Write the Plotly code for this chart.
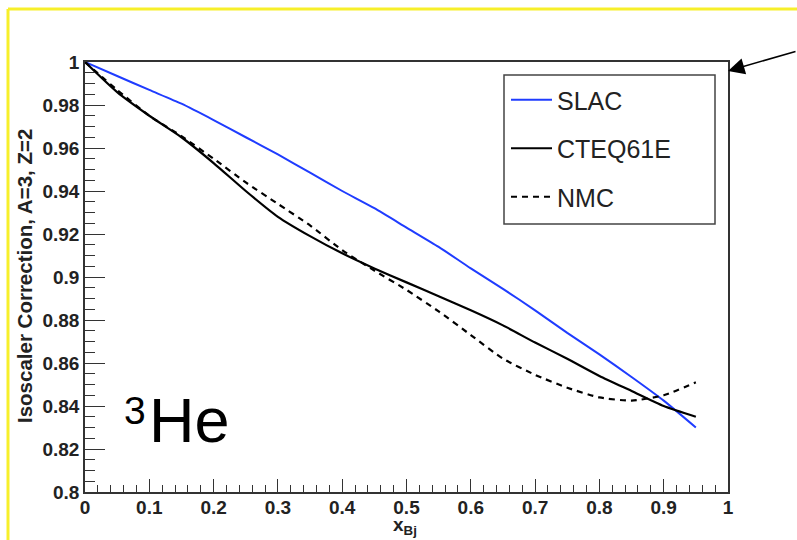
import plotly.graph_objects as go

# ---- data ----
x_vals = [0.0, 0.05, 0.1, 0.15, 0.2, 0.25, 0.3, 0.35, 0.4, 0.45, 0.5,
          0.55, 0.6, 0.65, 0.7, 0.75, 0.8, 0.85, 0.9, 0.95]
slac = [1.0, 0.9935, 0.987, 0.9806, 0.973, 0.965, 0.957, 0.9485, 0.940, 0.932,
        0.923, 0.914, 0.904, 0.8945, 0.8845, 0.874, 0.864, 0.8535, 0.8425, 0.830]
cteq = [1.0, 0.986, 0.975, 0.965, 0.953, 0.940, 0.928, 0.919, 0.911, 0.904,
        0.8975, 0.891, 0.8845, 0.8775, 0.8695, 0.862, 0.854, 0.847, 0.840, 0.835]
nmc = [1.0, 0.987, 0.975, 0.9655, 0.955, 0.944, 0.934, 0.924, 0.9125, 0.903,
       0.894, 0.884, 0.873, 0.862, 0.8545, 0.8485, 0.844, 0.8425, 0.845, 0.851]

x_ticks = [0, 0.1, 0.2, 0.3, 0.4, 0.5, 0.6, 0.7, 0.8, 0.9, 1.0]
x_ticktext = ["0", "0.1", "0.2", "0.3", "0.4", "0.5", "0.6", "0.7", "0.8", "0.9", "1"]
y_ticks = [0.80, 0.82, 0.84, 0.86, 0.88, 0.90, 0.92, 0.94, 0.96, 0.98, 1.0]
y_ticktext = ["0.8", "0.82", "0.84", "0.86", "0.88", "0.9", "0.92", "0.94", "0.96", "0.98", "1"]

FONT = "Liberation Sans, Arial, Helvetica, sans-serif"
AXC = "#333333"

fig = go.Figure()
fig.add_trace(go.Scatter(x=x_vals, y=slac, mode="lines", name="SLAC",
                         line=dict(color="#1f3cff", width=2, shape="spline", smoothing=0.6),
                         legendgroup="a"))
fig.add_trace(go.Scatter(x=x_vals, y=cteq, mode="lines", name="CTEQ61E",
                         line=dict(color="black", width=2.2, shape="spline", smoothing=0.6),
                         legendgroup="b"))
fig.add_trace(go.Scatter(x=x_vals, y=nmc, mode="lines", name="NMC",
                         line=dict(color="black", width=2.2, dash="6px,5px", shape="spline", smoothing=0.6),
                         legendgroup="c"))

W, H = 797, 540
L, R, T, B = 85, 728, 62, 492
pw, ph = R - L, B - T


def px(xp):
    return (xp - L) / pw


def py(yp):
    return (B - yp) / ph


fig.update_layout(
    width=W, height=H,
    margin=dict(l=L, r=W - R, t=T, b=H - B),
    paper_bgcolor="white", plot_bgcolor="white",
    showlegend=True,
    legend=dict(x=px(506), y=py(77), xanchor="left", yanchor="top",
                font=dict(family=FONT, size=25, color="#222"),
                bgcolor="rgba(0,0,0,0)", borderwidth=0,
                tracegroupgap=13, itemwidth=41, traceorder="grouped"),
    xaxis=dict(range=[0, 1], tickvals=x_ticks, ticktext=x_ticktext,
               ticks="inside", ticklen=13, tickwidth=1, tickcolor=AXC,
               showline=True, linecolor=AXC, linewidth=1.5, mirror=True,
               showgrid=False, zeroline=False, ticklabelstandoff=-3,
               tickfont=dict(family=FONT, size=19, color="#222", weight="bold"),
               minor=dict(dtick=0.02, ticks="inside", ticklen=7, tickcolor=AXC, showgrid=False)),
    yaxis=dict(range=[0.8, 1.0], tickvals=y_ticks, ticktext=y_ticktext,
               ticks="inside", ticklen=20, tickwidth=1, tickcolor=AXC,
               showline=True, linecolor=AXC, linewidth=1.5, mirror=True,
               showgrid=False, zeroline=False,
               tickfont=dict(family=FONT, size=19, color="#222", weight="bold"),
               minor=dict(dtick=0.005, ticks="inside", ticklen=10, tickcolor=AXC, showgrid=False)),
)

shapes = [
    # yellow page border (top and left)
    dict(type="line", xref="paper", yref="paper", x0=px(8), x1=px(800), y0=py(9), y1=py(9),
         line=dict(color="#f7ef2a", width=3)),
    dict(type="line", xref="paper", yref="paper", x0=px(8), x1=px(8), y0=py(9), y1=py(545),
         line=dict(color="#f7ef2a", width=3)),
    # legend frame
    dict(type="rect", xref="paper", yref="paper", x0=px(504), x1=px(715), y0=py(75), y1=py(224),
         line=dict(color="#444", width=1.5), fillcolor="rgba(0,0,0,0)"),
]
fig.update_layout(shapes=shapes)

annotations = [
    dict(text="<b>Isoscaler Correction, A=3, Z=2</b>", textangle=-90,
         xref="paper", yref="paper", x=px(24), y=py(276), xanchor="center", yanchor="middle",
         showarrow=False, font=dict(family=FONT, size=20.5, color="#222")),
    dict(text="<b>x<sub>Bj</sub></b>",
         xref="paper", yref="paper", x=px(405), y=py(526), xanchor="center", yanchor="middle",
         showarrow=False, font=dict(family=FONT, size=19, color="#222")),
    dict(text="He", xref="paper", yref="paper", x=px(189), y=py(420), xanchor="center", yanchor="middle",
         showarrow=False, font=dict(family=FONT, size=63, color="black")),
    dict(text="3", xref="paper", yref="paper", x=px(134.5), y=py(410), xanchor="center", yanchor="middle",
         showarrow=False, font=dict(family=FONT, size=39, color="black")),
    dict(text="", xref="paper", yref="paper", x=px(728), y=py(71),
         showarrow=True, arrowhead=2, arrowsize=2.2, arrowwidth=1.5, arrowcolor="black",
         ax=72, ay=-20),
]
fig.update_layout(annotations=annotations)

fig.write_html("out.html")
